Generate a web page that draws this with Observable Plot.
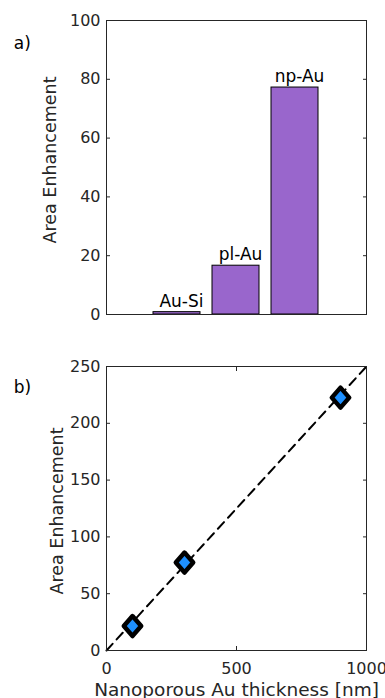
<!DOCTYPE html>
<html>
<head>
<meta charset="utf-8">
<script src="https://cdn.jsdelivr.net/npm/d3@7"></script>
<script src="https://cdn.jsdelivr.net/npm/@observablehq/plot@0.6"></script>
<style>
  html, body { margin: 0; padding: 0; background: #fff; }
  #chart svg { display: block; }
</style>
</head>
<body>
<div id="chart"></div>
<script>
// ---- data ----
const barCategories = ["Au-Si", "pl-Au", "np-Au"];
const barValues = [0.8, 16.6, 77.2];
const yTicksA = [0, 20, 40, 60, 80, 100];

const thicknessNm = [100, 300, 900];
const enhancement = [21.5, 77.4, 222.6];
const fitX = [0, 1000];
const fitY = [0, 250];
const xTicksB = [0, 500, 1000];
const yTicksB = [0, 50, 100, 150, 200, 250];

const yLabel = "Area Enhancement";
const xLabelB = "Nanoporous Au thickness [nm]";
const panelA = "a)";
const panelB = "b)";

const barData = barCategories.map((c, i) => ({cat: c, val: barValues[i]}));
const pts = thicknessNm.map((t, i) => ({t, e: enhancement[i]}));
const fit = fitX.map((x, i) => ({x, y: fitY[i]}));

const axisColor = "#262626";
const font = "DejaVu Sans";
const plain = d => String(d);

const diamond = {
  draw(ctx, size) {
    const r = Math.sqrt(size / Math.PI);
    const w = 0.87 * r;
    ctx.moveTo(0, -r);
    ctx.lineTo(w, 0);
    ctx.lineTo(0, r);
    ctx.lineTo(-w, 0);
    ctx.closePath();
  }
};

const plotA = Plot.plot({
  width: 385,
  height: 340,
  marginLeft: 106,
  marginRight: 19,
  marginTop: 20,
  marginBottom: 26,
  style: {fontFamily: font, fontSize: "16px", color: axisColor, background: "#fff"},
  x: {type: "band", domain: barCategories, paddingInner: 0.2, paddingOuter: 0.8, axis: null},
  y: {domain: [0, 100], axis: null},
  marks: [
    Plot.barY(barData, {x: "cat", y: "val", fill: "#9966CC", stroke: "black", strokeWidth: 1}),
    Plot.text(barData, {x: "cat", y: "val", text: "cat", dx: 4.5, dy: -5.5, lineAnchor: "bottom", textAnchor: "middle", fill: "black", fontSize: 17}),
    Plot.axisY({anchor: "left", ticks: yTicksA, tickFormat: plain, tickSize: -4, tickPadding: 10, label: null, stroke: axisColor, fill: axisColor, fontSize: 16}),
    Plot.axisY({anchor: "right", ticks: yTicksA, tickSize: -4, tickFormat: () => "", label: null, stroke: axisColor}),
    Plot.frame({stroke: axisColor, strokeWidth: 1}),
    Plot.text([yLabel], {frameAnchor: "left", text: d => d, rotate: -90, textAnchor: "middle", lineAnchor: "bottom", dx: -51, dy: -7.5, fill: axisColor, fontSize: 17.5}),
    Plot.text([panelA], {frameAnchor: "top-left", text: d => d, textAnchor: "start", lineAnchor: "bottom", dx: -92.7, dy: 28.5, fill: "black", fontSize: 17})
  ]
});

const plotB = Plot.plot({
  width: 385,
  height: 358,
  marginLeft: 106,
  marginRight: 19,
  marginTop: 26,
  marginBottom: 48,
  style: {fontFamily: font, fontSize: "16px", color: axisColor, background: "#fff", overflow: "visible"},
  x: {domain: [0, 1000], axis: null},
  y: {domain: [0, 250], axis: null},
  marks: [
    Plot.line(fit, {x: "x", y: "y", stroke: "black", strokeWidth: 2, strokeDasharray: "9,6"}),
    Plot.dot(pts, {x: "t", y: "e", r: 10, symbol: diamond, fill: "#1E90FF", stroke: "black", strokeWidth: 4.5, strokeLinejoin: "round"}),
    Plot.axisX({anchor: "bottom", ticks: xTicksB, tickFormat: plain, tickSize: -4, tickPadding: 16, label: null, stroke: axisColor, fill: axisColor, fontSize: 16}),
    Plot.axisX({anchor: "top", ticks: xTicksB, tickSize: -4, tickFormat: () => "", label: null, stroke: axisColor}),
    Plot.axisY({anchor: "left", ticks: yTicksB, tickFormat: plain, tickSize: -4, tickPadding: 10, label: null, stroke: axisColor, fill: axisColor, fontSize: 16}),
    Plot.axisY({anchor: "right", ticks: yTicksB, tickSize: -4, tickFormat: () => "", label: null, stroke: axisColor}),
    Plot.frame({stroke: axisColor, strokeWidth: 1}),
    Plot.text([yLabel], {frameAnchor: "left", text: d => d, rotate: -90, textAnchor: "middle", lineAnchor: "bottom", dx: -44, dy: 2.5, fill: axisColor, fontSize: 17.5}),
    Plot.text([xLabelB], {frameAnchor: "bottom", text: d => d, textAnchor: "middle", lineAnchor: "bottom", dy: 45, fill: axisColor, fontSize: 18.5}),
    Plot.text([panelB], {frameAnchor: "top-left", text: d => d, textAnchor: "start", lineAnchor: "bottom", dx: -92.7, dy: 26, fill: "black", fontSize: 17})
  ]
});

document.getElementById("chart").append(plotA, plotB);
</script>
</body>
</html>
